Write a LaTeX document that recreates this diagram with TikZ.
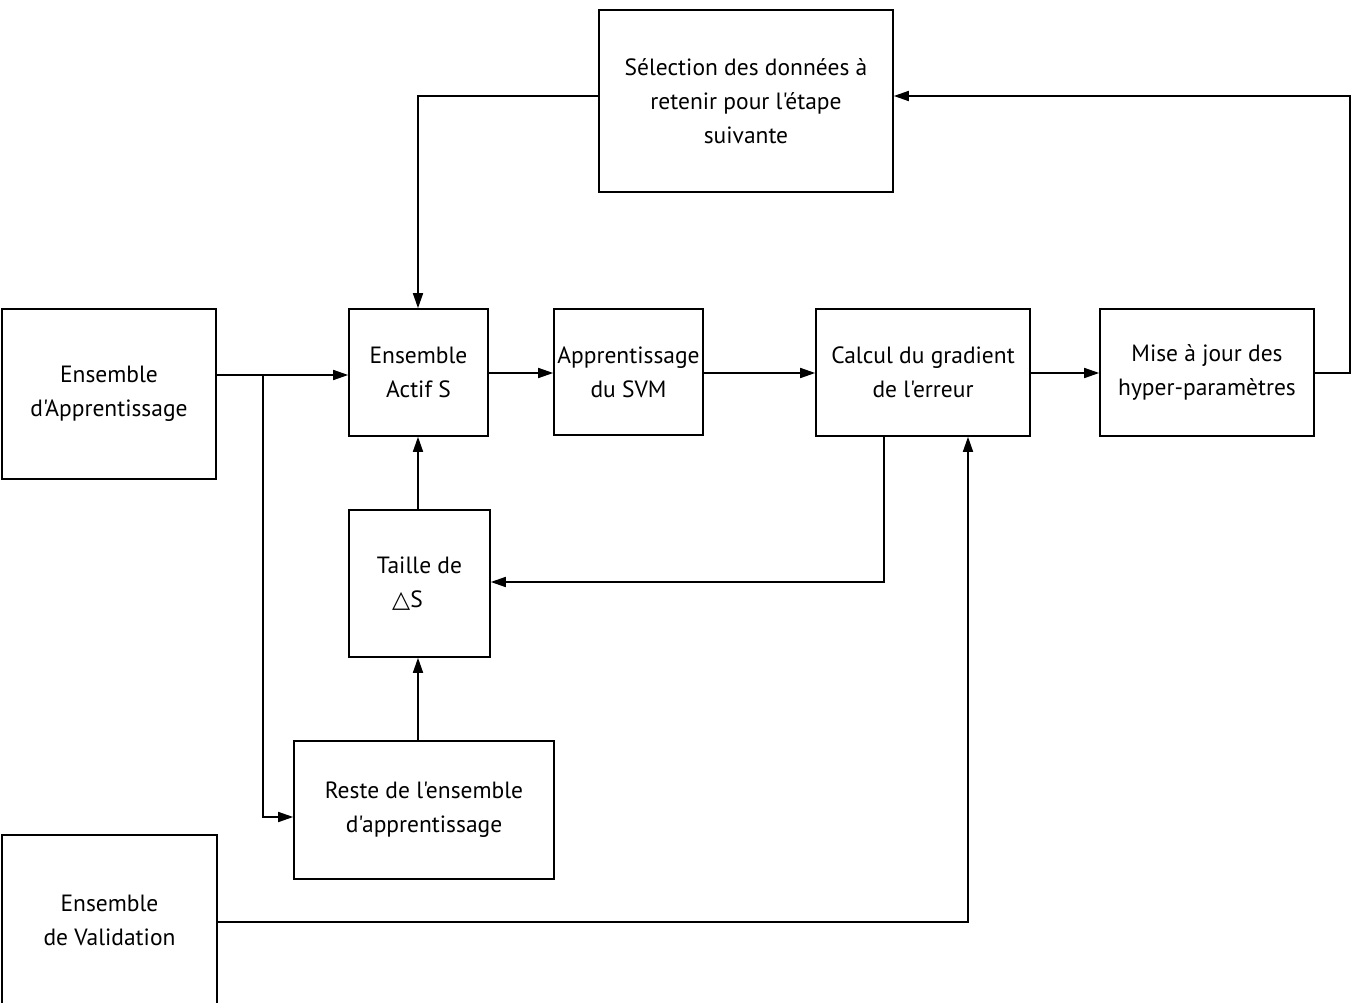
\documentclass[tikz,border=0pt]{standalone}
\usepackage{fontspec}
\setmainfont{PT Sans}[Ligatures=TeXOff]
\newfontfamily\symfont{DejaVu Sans}
\usetikzlibrary{arrows.meta}
\begin{document}
\begin{tikzpicture}[x=1pt,y=-1pt,
  box/.style={draw,line width=1.6pt,inner sep=0pt,align=center,
    font=\fontsize{23.5}{34}\selectfont},
  arr/.style={line width=1.6pt,-{Triangle[length=15pt,width=10pt]}}]
\useasboundingbox (0,0) rectangle (1354,1003);
\node[box,minimum width=294,minimum height=182] (sel) at (746,101) {Sélection des données à\\retenir pour l'étape\\suivante};
\node[box,minimum width=214,minimum height=170] (app) at (109,394) {Ensemble\\d'Apprentissage};
\node[box,minimum width=139,minimum height=127] (actif) at (418.5,372.5) {Ensemble\\Actif S};
\node[box,minimum width=149,minimum height=126] (svm) at (628.5,372) {Apprentissage\\du SVM};
\node[box,minimum width=214,minimum height=127] (grad) at (923,372.5) {Calcul du gradient\\de l'erreur};
\node[box,minimum width=214,minimum height=127] (maj) at (1207,372.5) {Mise à jour des\\hyper-paramètres};
\node[box,minimum width=141,minimum height=147] (taille) at (419.5,583.5) {Taille de\\\hspace*{-24pt}{\symfont △}S};
\node[box,minimum width=260,minimum height=138] (reste) at (424,810) {Reste de l'ensemble\\d'apprentissage};
\node[box,minimum width=215,minimum height=170] (val) at (109.5,920) {Ensemble\\de Validation};
\coordinate (br) at (263,375);
\draw[arr] (app.east |- 0,375) -- (actif.west |- 0,375);
\draw[arr] (br) |- (reste.west |- 0,817);
\draw[arr] (actif.east |- 0,373) -- (svm.west |- 0,373);
\draw[arr] (svm.east |- 0,373) -- (grad.west |- 0,373);
\draw[arr] (grad.east |- 0,373) -- (maj.west |- 0,373);
\draw[arr] (maj.east |- 0,373) -- (1350,373) |- (sel.east |- 0,96);
\draw[arr] (sel.west |- 0,96) -| (actif.north -| 418,0);
\draw[arr] (taille.north -| 418,0) -- (actif.south -| 418,0);
\draw[arr] (reste.north -| 418,0) -- (taille.south -| 418,0);
\draw[arr] (grad.south -| 884,0) |- (taille.east |- 0,582);
\draw[arr] (val.east |- 0,922) -| (grad.south -| 968,0);
\end{tikzpicture}
\end{document}
